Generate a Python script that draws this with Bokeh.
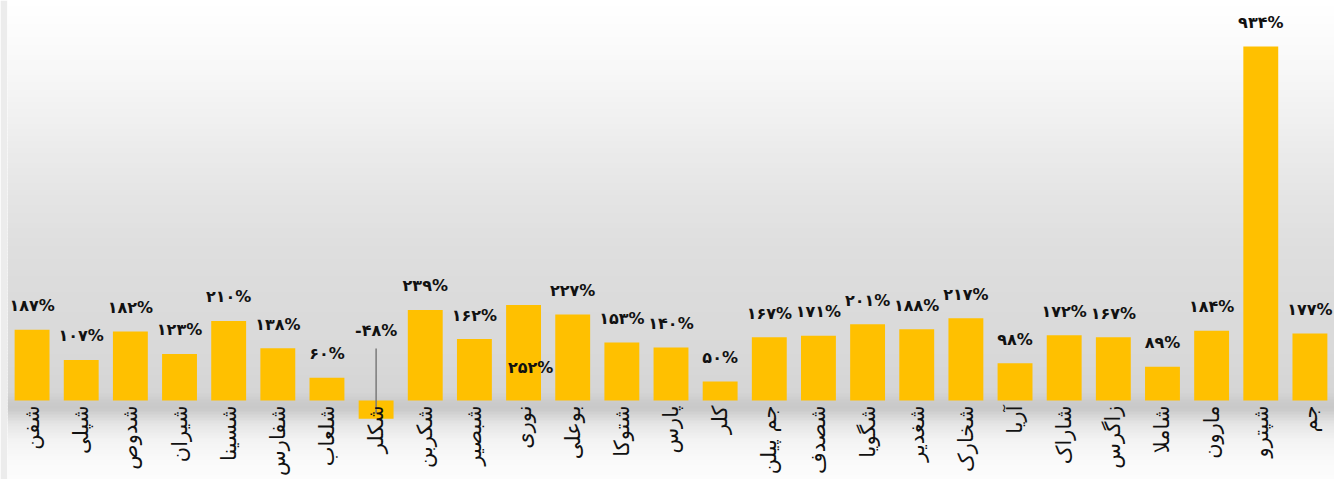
import math
from bokeh.plotting import figure
from bokeh.models import FactorRange, Range1d, ColumnDataSource
from bokeh.core.properties import value
from bokeh.embed import file_html
from bokeh.resources import INLINE

# ---- data ----
categories = ["شفن", "شپلی", "شدوص", "شیران", "شسینا", "شفارس", "شلعاب", "شکلر",
              "شکربن", "شبصیر", "نوری", "بوعلی", "شتوکا", "پارس", "کلر", "جم پیلن",
              "شصدف", "شگویا", "شغدیر", "شخارک", "آریا", "شاراک", "زاگرس", "شاملا",
              "مارون", "شپترو", "جم"]
values = [187, 107, 182, 123, 210, 138, 60, -48,
          239, 162, 252, 227, 153, 140, 50, 167,
          171, 201, 188, 217, 98, 172, 167, 89,
          184, 934, 177]
inside_label = ["نوری"]   # label printed inside the bar

PERSIAN = "۰۱۲۳۴۵۶۷۸۹"
def fa(n):
    s = str(abs(n))
    s = "".join(PERSIAN[int(c)] for c in s)
    return ("-" if n < 0 else "") + s + "%"

W, H = 1334, 479
BASE = 400          # pixel row of the zero line
ppu = 0.379         # pixels per percentage point
Y1 = BASE / ppu
Y0 = -(H - BASE) / ppu

p = figure(width=W, height=H, x_range=FactorRange(*categories, range_padding=0),
           y_range=Range1d(Y0, Y1), x_axis_type=None, y_axis_type=None,
           toolbar_location=None, output_backend="svg", min_border=0,
           min_border_left=7)
p.outline_line_color = None
p.grid.visible = False
p.background_fill_color = "#ffffff"
p.border_fill_color = "#ececec"

# ---- background gradient (style) ----
stops = [(0, 255), (50, 250), (100, 243), (150, 235), (200, 228), (250, 222),
         (300, 219), (350, 217), (392, 213), (400, 204), (408, 200), (414, 212),
         (424, 230), (440, 243), (460, 250), (479, 252)]
def gray_at(ry):
    for (a, ga), (b, gb) in zip(stops, stops[1:]):
        if a <= ry <= b:
            t = (ry - a) / (b - a)
            return ga + (gb - ga) * t
    return stops[-1][1]
tops, bots, cols = [], [], []
step = 3
for ry in range(0, H, step):
    g = int(round(gray_at(ry + step / 2)))
    tops.append((BASE - ry) / ppu)
    bots.append((BASE - ry - step - 0.5) / ppu)
    cols.append("#%02x%02x%02x" % (g, g, g))
p.hstrip(y0=bots, y1=tops, fill_color=cols, line_color=None)

# ---- bars ----
src = ColumnDataSource(dict(cat=categories, val=values))
p.vbar(x="cat", top="val", bottom=0, width=0.71, source=src,
       fill_color="#FFC000", line_color=None)

# leader line for negative bar
neg = [c for c, v in zip(categories, values) if v < 0]
p.segment(x0=neg, x1=neg, y0=[-13 / ppu] * len(neg), y1=[52 / ppu] * len(neg),
          line_color="#7a7a7a", line_width=1.5)

# ---- value labels ----
lx, ly, lt, lyo, lxo = [], [], [], [], []
for c, v in zip(categories, values):
    lx.append(c)
    lt.append(fa(v))
    if c in inside_label:
        ly.append(0); lyo.append(-33); lxo.append(7)
    elif v < 0:
        ly.append(0); lyo.append(-70); lxo.append(0)
    else:
        ly.append(v); lyo.append(-24); lxo.append(0)
lsrc = ColumnDataSource(dict(x=lx, y=ly, t=lt, yo=lyo, xo=lxo))
p.text(x="x", y="y", text="t", x_offset="xo", y_offset="yo", source=lsrc,
       text_align="center", text_baseline="alphabetic",
       text_font=value("DejaVu Sans"), text_font_style="bold",
       text_font_size="16px", text_color="#111111")

# ---- category labels ----
p.text(x=categories, y=[0] * len(categories), text=categories, angle=math.pi / 2,
       y_offset=5, text_align="right", text_baseline="middle",
       text_font=value("DejaVu Sans"), text_font_size="21px", text_color="#111111")

open("out.html", "w").write(file_html(p, INLINE))
